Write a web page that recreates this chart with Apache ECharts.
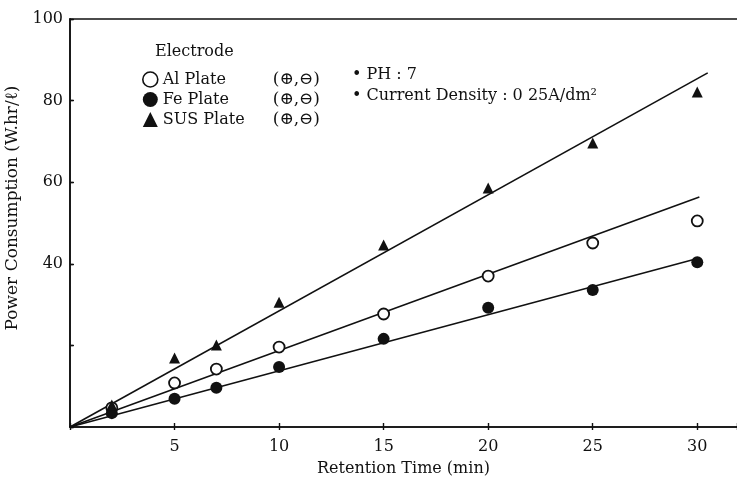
<!DOCTYPE html>
<html><head><meta charset="utf-8">
<script src="https://cdn.jsdelivr.net/npm/echarts@6/dist/echarts.min.js"></script>
<style>html,body{margin:0;padding:0;background:#fff}#c{width:737px;height:478px}</style>
</head><body><div id="c"></div>
<script>
var times = [2, 5, 7, 10, 15, 20, 25, 30];
var alValues = [4.7, 10.8, 14.2, 19.6, 27.7, 37.0, 45.1, 50.5];
var feValues = [3.4, 6.9, 9.6, 14.7, 21.6, 29.2, 33.6, 40.4];
var susValues = [5.4, 16.9, 20.1, 30.6, 44.6, 58.6, 69.6, 82.1];
var alFit = [[0, 0], [30.1, 56.4]];
var feFit = [[0, 0], [30.1, 41.4]];
var susFit = [[0, 0], [30.5, 86.8]];
var xTicks = [5, 10, 15, 20, 25, 30];
var yTickLabels = [40, 60, 80, 100];

function pairs(xs, ys) { return xs.map(function (x, i) { return [x, ys[i]]; }); }

var INK = '#111';
var FONT = '"DejaVu Serif", "Liberation Serif", serif';
var chart = echarts.init(document.getElementById('c'), null, {renderer: 'canvas'});

function xAx(extra) {
  return Object.assign({
    type: 'value', min: 0, max: 31.9, interval: 5,
    axisLine: {show: true, lineStyle: {color: INK, width: 1.6}},
    splitLine: {show: false}
  }, extra);
}
function yAx(extra) {
  return Object.assign({
    type: 'value', min: 0, max: 100, interval: 20,
    axisLine: {show: true, lineStyle: {color: INK, width: 1.6}},
    splitLine: {show: false}
  }, extra);
}

chart.setOption({
  backgroundColor: '#fff',
  animation: false,
  grid: {left: 70, right: 0, top: 19, bottom: 51, containLabel: false, outerBoundsMode: 'none'},
  xAxis: [
    xAx({
      position: 'bottom',
      axisTick: {show: true, inside: true, length: 4, lineStyle: {color: INK, width: 1.4}},
      axisLabel: {show: true, margin: 12, color: INK, fontFamily: FONT, fontSize: 16,
        formatter: function (v) { return xTicks.indexOf(v) >= 0 ? String(v) : ''; }},
      name: 'Retention Time (min)', nameLocation: 'middle', nameGap: 34,
      nameTextStyle: {color: INK, fontFamily: FONT, fontSize: 16}
    }),
    xAx({
      position: 'bottom', gridIndex: 0,
      axisTick: {show: true, inside: false, length: 3, lineStyle: {color: INK, width: 1.4}},
      axisLabel: {show: false}
    }),
    xAx({
      position: 'top', axisTick: {show: false}, axisLabel: {show: false}
    })
  ],
  yAxis: [
    yAx({
      axisTick: {show: true, inside: true, length: 4, lineStyle: {color: INK, width: 1.4}},
      axisLabel: {show: true, margin: 7, color: INK, fontFamily: FONT, fontSize: 16,
        formatter: function (v) { return yTickLabels.indexOf(v) >= 0 ? String(v) : ''; }},
      name: 'Power Consumption (W.hr/ℓ)', nameLocation: 'middle', nameGap: 43, nameRotate: 90,
      nameTextStyle: {color: INK, fontFamily: FONT, fontSize: 17, padding: [0, 0, 0, 30]}
    }),
    yAx({
      axisTick: {show: true, inside: false, length: 3, lineStyle: {color: INK, width: 1.4}},
      axisLabel: {show: false}
    })
  ],
  legend: {
    orient: 'vertical', left: 137, top: 66, itemGap: 3,
    itemWidth: 15, itemHeight: 15,
    data: [
      {name: 'Al Plate', icon: 'circle', itemStyle: {color: '#fff', borderColor: INK, borderWidth: 1.6}},
      {name: 'Fe Plate', icon: 'circle', itemStyle: {color: INK}},
      {name: 'SUS Plate', icon: 'triangle', itemStyle: {color: INK}}
    ],
    formatter: function (n) { return '{a|' + n + '}{b|(⊕,⊖)}'; },
    textStyle: {color: INK, fontFamily: FONT, fontSize: 16,
      rich: {a: {width: 110, fontFamily: FONT, fontSize: 16, color: INK},
             b: {fontFamily: FONT, fontSize: 17, color: INK}}}
  },
  graphic: [
    {type: 'text', left: 155, top: 44, style: {text: 'Electrode', font: '16px ' + FONT, fill: INK}},
    {type: 'text', left: 352, top: 67, style: {text: '• PH : 7', font: '16px ' + FONT, fill: INK}},
    {type: 'text', left: 352, top: 88, style: {text: '• Current Density : 0 25A/dm²', font: '16px ' + FONT, fill: INK}}
  ],
  series: [
    {name: 'Al fit', type: 'line', data: alFit, symbol: 'none', lineStyle: {color: INK, width: 1.6}, silent: true},
    {name: 'Fe fit', type: 'line', data: feFit, symbol: 'none', lineStyle: {color: INK, width: 1.6}, silent: true},
    {name: 'SUS fit', type: 'line', data: susFit, symbol: 'none', lineStyle: {color: INK, width: 1.6}, silent: true},
    {name: 'Al Plate', type: 'scatter', data: pairs(times, alValues), symbol: 'circle', symbolSize: 11,
      itemStyle: {color: '#fff', borderColor: INK, borderWidth: 1.8, opacity: 1}, z: 5},
    {name: 'Fe Plate', type: 'scatter', data: pairs(times, feValues), symbol: 'circle', symbolSize: 12,
      itemStyle: {color: INK, opacity: 1}, z: 5},
    {name: 'SUS Plate', type: 'scatter', data: pairs(times, susValues), symbol: 'triangle', symbolSize: 11,
      itemStyle: {color: INK, opacity: 1}, z: 5}
  ]
});
</script></body></html>
